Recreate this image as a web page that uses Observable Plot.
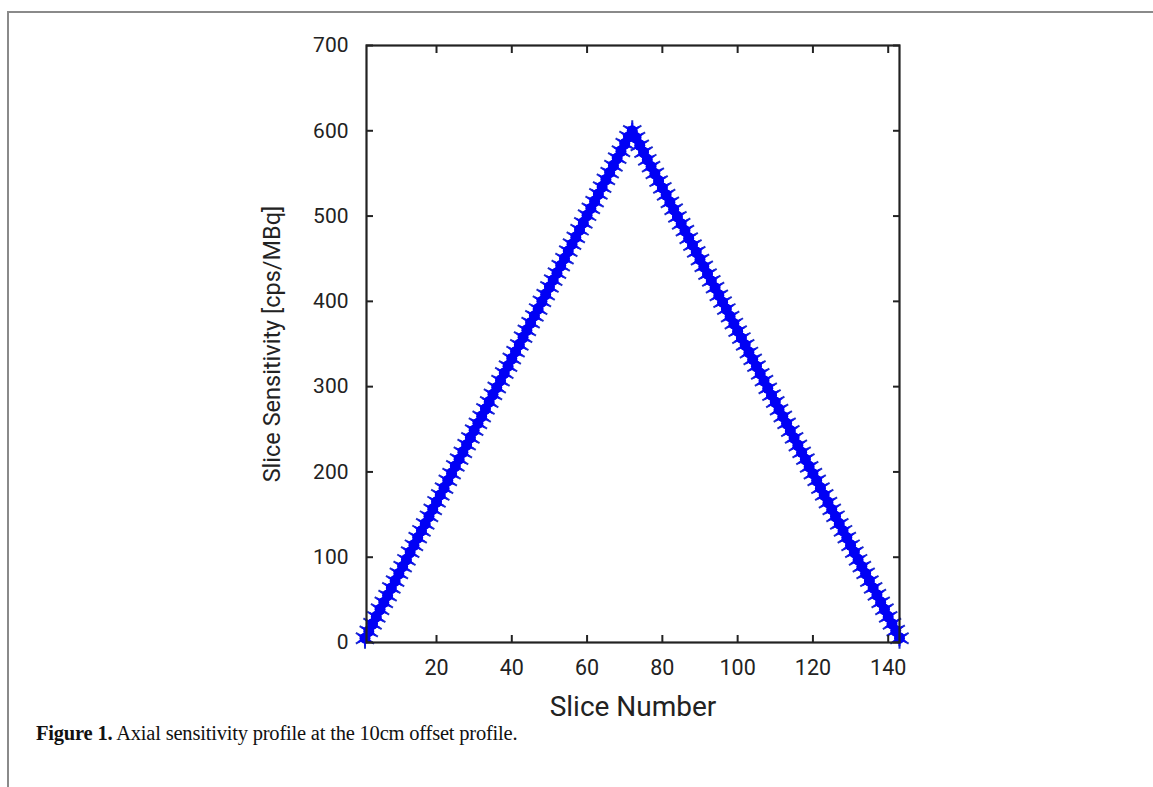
<!DOCTYPE html>
<html>
<head>
<meta charset="utf-8">
<script src="https://cdn.jsdelivr.net/npm/d3@7"></script>
<script src="https://cdn.jsdelivr.net/npm/@observablehq/plot@0.6"></script>
<style>
  html, body { margin: 0; padding: 0; background: #fff; }
  #wrap { position: relative; width: 1153px; height: 787px; overflow: hidden; }
  #frame { position: absolute; left: 7px; top: 11px; width: 1160px; height: 800px;
           border-left: 2px solid #8a8a8a; border-top: 2px solid #8a8a8a; box-sizing: border-box; }
  #chart { position: absolute; left: 0; top: 0; }
  #caption { position: absolute; left: 36px; top: 722px; font-family: "Liberation Serif", "DejaVu Serif", serif;
             font-size: 20.5px; color: #111; letter-spacing: -0.2px; z-index: 2; }
  #caption b { font-weight: bold; }
</style>
</head>
<body>
<div id="wrap">
  <div id="frame"></div>
  <div id="chart"></div>
  <div id="caption"><b>Figure 1.</b> Axial sensitivity profile at the 10cm offset profile.</div>
</div>
<script>
const slices = d3.range(1, 144);
const sensitivity = [
  5, 13, 22, 30, 39, 47, 55, 64, 72, 81,
  89, 97, 106, 114, 123, 131, 139, 148, 156, 165,
  173, 181, 190, 198, 207, 215, 223, 232, 240, 249,
  257, 265, 274, 282, 291, 299, 307, 316, 324, 333,
  341, 349, 358, 366, 375, 383, 391, 400, 408, 417,
  425, 433, 442, 450, 459, 467, 475, 484, 492, 501,
  509, 517, 526, 534, 543, 551, 559, 568, 576, 585,
  593, 600,
  592, 583, 575, 566, 558, 550, 541, 533, 525, 516,
  508, 499, 491, 483, 474, 466, 458, 449, 441, 432,
  424, 416, 407, 399, 391, 382, 374, 365, 357, 349,
  340, 332, 324, 315, 307, 298, 290, 282, 273, 265,
  257, 248, 240, 231, 223, 215, 206, 198, 190, 181,
  173, 164, 156, 148, 139, 131, 123, 114, 106, 97,
  89, 81, 72, 64, 56, 47, 39, 30, 22, 14, 5
];
const xTicks = [20, 40, 60, 80, 100, 120, 140];
const yTicks = [0, 100, 200, 300, 400, 500, 600, 700];
const xLabel = "Slice Number";
const yLabel = "Slice Sensitivity [cps/MBq]";

const data = slices.map((s, i) => ({slice: s, value: sensitivity[i]}));

const font = "Roboto, 'Liberation Sans', Arial, sans-serif";
const plot = Plot.plot({
  width: 1153,
  height: 787,
  marginLeft: 366,
  marginRight: 254,
  marginTop: 45,
  marginBottom: 145,
  style: {fontFamily: font, fontSize: "21px", color: "#222", background: "transparent"},
  x: {domain: [1.4, 143], ticks: xTicks},
  y: {domain: [0, 700], ticks: yTicks},
  marks: [
    Plot.dot(data, {x: "slice", y: "value", symbol: "asterisk", r: 10, stroke: "#1c2bc8", strokeWidth: 2}),
    Plot.dot(data, {x: "slice", y: "value", symbol: "asterisk", r: 7.5, stroke: "#0a0aff", strokeWidth: 2}),
    Plot.dot(data, {x: "slice", y: "value", r: 5.5, fill: "#0000f5", stroke: "none"}),
    Plot.frame({stroke: "#222", strokeWidth: 2.2}),
    Plot.axisX({anchor: "bottom", ticks: xTicks, tickSize: -7, tickFormat: () => "", label: null, strokeWidth: 2}),
    Plot.axisX({anchor: "top", ticks: xTicks, tickSize: -7, tickFormat: () => "", label: null, strokeWidth: 2}),
    Plot.axisY({anchor: "left", ticks: yTicks, tickSize: -7, tickFormat: () => "", label: null, strokeWidth: 2}),
    Plot.axisY({anchor: "right", ticks: yTicks, tickSize: -7, tickFormat: () => "", label: null, strokeWidth: 2}),
    Plot.axisX({anchor: "bottom", ticks: xTicks, tickSize: 0, tickPadding: 17, label: null, fontSize: 21.5, fill: "#222"}),
    Plot.axisY({anchor: "left", ticks: yTicks, tickSize: 0, tickPadding: 18, label: null, fontSize: 21, fill: "#222"}),
    Plot.text([xLabel], {frameAnchor: "bottom", dy: 73, text: d => d, fontSize: 28, fill: "#222", textAnchor: "middle"}),
    Plot.text([yLabel], {frameAnchor: "left", dx: -94, rotate: -90, text: d => d, fontSize: 23.5, fill: "#222", textAnchor: "middle"})
  ]
});
document.getElementById("chart").appendChild(plot);
</script>
</body>
</html>
